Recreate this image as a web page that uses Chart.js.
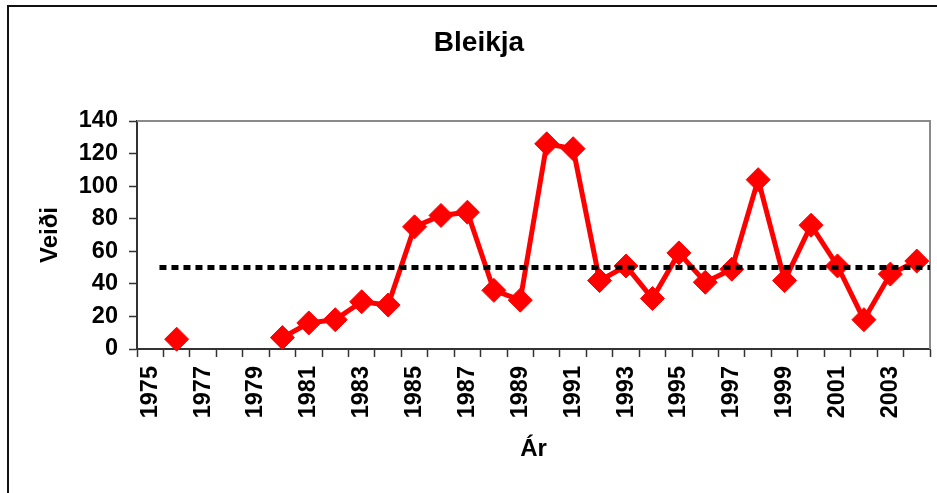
<!DOCTYPE html>
<html>
<head>
<meta charset="utf-8">
<script src="https://cdn.jsdelivr.net/npm/chart.js@4"></script>
<style>
  html, body { margin: 0; padding: 0; background: #fff; }
  #wrap { position: relative; width: 937px; height: 493px; }
  #frame { position: absolute; left: 7px; top: 5px; right: 0; bottom: 0;
           border-top: 2px solid #111; border-left: 2px solid #111; }
  #chart { position: absolute; left: 0; top: 0; }
</style>
</head>
<body>
<div id="wrap">
  <div id="frame"></div>
  <canvas id="chart" width="937" height="493"></canvas>
</div>
<script>
// 데이터
const years = [];
for (let y = 1975; y <= 2004; y++) years.push(String(y));

const catch_ = [
  null, 6, null, null, null,      // 1975-1979
  7, 16, 18, 29, 27,              // 1980-1984
  75, 82, 84, 36, 30,             // 1985-1989
  126, 123, 42, 51, 31,           // 1990-1994
  59, 41, 49, 104, 42,            // 1995-1999
  76, 51, 18, 46, 54              // 2000-2004
];

// meðaltal (dotted line)
const meanValue = 50;
const meanFrom = 1975.35;
const meanTo = 2004.5;

const yTicksMin = 0, yTicksMax = 140, yStep = 20;

const FONT = "'Liberation Sans', Arial, sans-serif";

// 플롯 영역 위/오른쪽 회색 테두리
const frameLines = {
  id: 'frameLines',
  beforeDatasetsDraw(chart) {
    const { ctx, chartArea: a } = chart;
    ctx.save();
    ctx.strokeStyle = '#8a8a8a';
    ctx.lineWidth = 2;
    ctx.beginPath();
    ctx.moveTo(a.left, a.top);
    ctx.lineTo(a.right, a.top);
    ctx.lineTo(a.right, a.bottom);
    ctx.stroke();
    ctx.restore();
  }
};

new Chart(document.getElementById('chart'), {
  type: 'line',
  data: {
    labels: years,
    datasets: [
      {
        label: 'Meðaltal',
        xAxisID: 'x2',
        data: [{ x: meanFrom, y: meanValue }, { x: meanTo, y: meanValue }],
        borderColor: '#000',
        borderWidth: 5,
        borderDash: [7, 5],
        borderCapStyle: 'butt',
        pointRadius: 0,
        fill: false,
        clip: false,
        order: 0,
      },
      {
        label: 'Bleikja',
        data: catch_,
        borderColor: '#ff0000',
        backgroundColor: '#ff0000',
        borderWidth: 5,
        pointStyle: 'rectRot',
        pointRadius: 12,
        pointBorderWidth: 1,
        pointHoverRadius: 12,
        spanGaps: false,
        tension: 0,
        fill: false,
        clip: false,
        order: 1,
      }
    ]
  },
  options: {
    responsive: false,
    animation: false,
    layout: { autoPadding: false, padding: { left: 28, right: 7, top: 0, bottom: 0 } },
    plugins: {
      legend: { display: false },
      tooltip: { enabled: false },
      title: {
        display: true,
        text: 'Bleikja',
        color: '#000',
        font: { family: FONT, size: 28, weight: 'bold', lineHeight: 1.2 },
        padding: { top: 26.5, bottom: 60.9 }
      }
    },
    scales: {
      x: {
        type: 'category',
        offset: true,
        border: { display: true, color: '#333', width: 2 },
        grid: { offset: true, drawOnChartArea: false, drawTicks: true, tickLength: 8, tickColor: '#333', tickWidth: 1.5 },
        ticks: {
          autoSkip: false,
          minRotation: 90,
          maxRotation: 90,
          padding: 9,
          color: '#000',
          font: { family: FONT, size: 23.5, weight: 'bold' },
          callback: function (v, i) { return i % 2 === 0 ? this.getLabelForValue(v) : ''; }
        },
        title: {
          display: true,
          text: 'Ár',
          color: '#000',
          font: { family: FONT, size: 24, weight: 'bold', lineHeight: 1.2 },
          padding: { top: 0, bottom: 29 }
        },
        afterFit: s => { s.height = 144; s.paddingLeft = 0; s.paddingRight = 0; }
      },
      x2: {
        type: 'linear',
        display: false,
        min: 1974.5,
        max: 2004.5,
      },
      y: {
        min: yTicksMin,
        max: yTicksMax,
        border: { display: true, color: '#333', width: 2 },
        grid: { drawOnChartArea: false, drawTicks: true, tickLength: 8, tickColor: '#333', tickWidth: 1.5 },
        ticks: {
          stepSize: yStep,
          padding: 11,
          color: '#000',
          font: { family: FONT, size: 23.5, weight: 'bold' }
        },
        title: {
          display: true,
          text: 'Veiði',
          color: '#000',
          font: { family: FONT, size: 24, weight: 'bold', lineHeight: 1.2 },
          padding: { top: 7.6, bottom: 0 }
        },
        afterFit: s => { s.width = 109; s.paddingTop = 0; s.paddingBottom = 0; }
      }
    }
  },
  plugins: [frameLines]
});
</script>
</body>
</html>
